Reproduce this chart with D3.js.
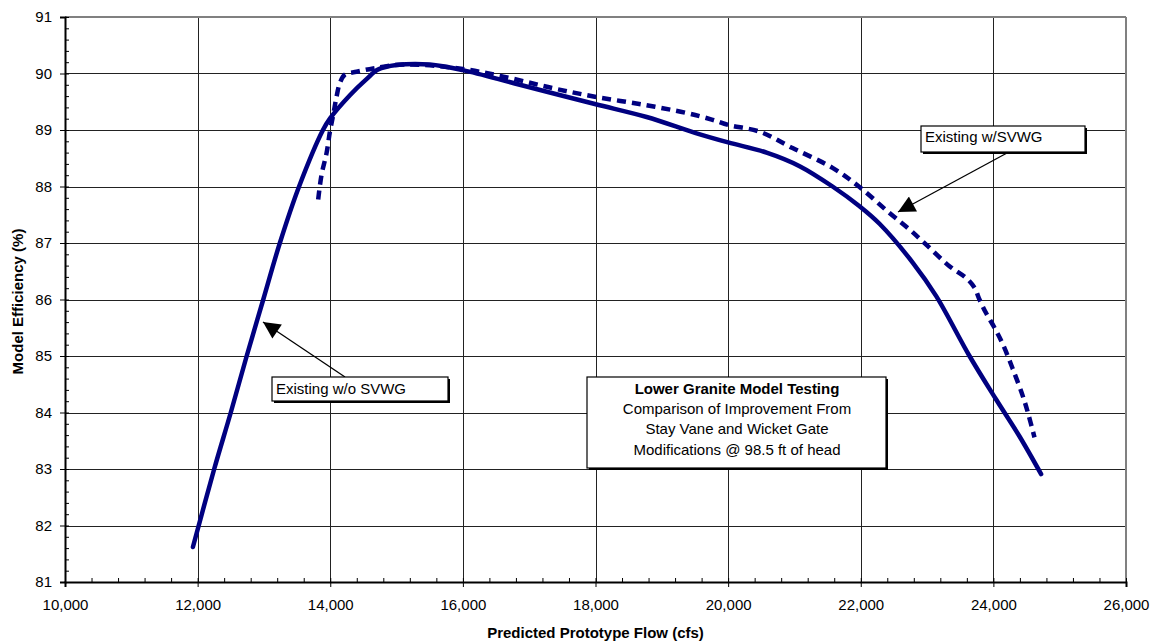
<!DOCTYPE html>
<html><head><meta charset="utf-8">
<script src="https://d3js.org/d3.v7.min.js"></script>
<style>body{margin:0;background:#fff}svg{display:block;font-family:Arial,"Liberation Sans",sans-serif}</style>
</head><body><svg id="c" width="1153" height="642"></svg>
<script>
const xTicks = [10000,12000,14000,16000,18000,20000,22000,24000,26000];
const yTicks = [81,82,83,84,85,86,87,88,89,90,91];
const withoutFlow = [11929,12250,12500,12740,12990,13240,13530,13890,14000,14300,14547,14720,15000,15500,16000,16858,17990,18771,19500,20000,20580,21078,21575,21982,22283,22786,23138,23640,24042,24393,24720];
const withoutEff  = [81.62,83.0,84.0,85.0,86.0,87.0,88.0,89.0,89.21,89.62,89.90,90.07,90.15,90.16,90.06,89.8,89.46,89.23,88.95,88.78,88.6,88.36,88.0,87.65,87.34,86.65,86.06,85.0,84.23,83.58,82.91];
const withFlow = [13818,13869,13944,13995,14045,14095,14145,14220,14396,14647,15094,16000,16707,17355,17990,18711,19375,19766,20000,20475,20972,21575,21982,22434,22735,22987,23338,23590,23715,23790,23890,24017,24142,24293,24444,24520,24620];
const withEff  = [87.77,88.21,88.59,88.97,89.27,89.59,89.83,89.98,90.03,90.09,90.16,90.08,89.92,89.74,89.59,89.45,89.30,89.18,89.09,88.97,88.68,88.33,87.99,87.53,87.24,86.97,86.59,86.38,86.21,86.0,85.76,85.50,85.21,84.77,84.29,84.0,83.56];
const xLabel = "Predicted Prototype Flow (cfs)";
const yLabel = "Model Efficiency (%)";
const noteLines = ["Lower Granite Model Testing","Comparison of Improvement From","Stay Vane and Wicket Gate","Modifications @ 98.5 ft of head"];

const svg = d3.select("#c");
const L=65, R=1126, T=17, B=582;
const x = d3.scaleLinear().domain([10000,26000]).range([L,R]);
const y = d3.scaleLinear().domain([81,91]).range([B,T]);
const navy = "#000080";

const g = svg.append("g");
g.selectAll(".vg").data(xTicks.slice(1,-1)).join("line")
  .attr("x1",d=>Math.round(x(d))+0.5).attr("x2",d=>Math.round(x(d))+0.5).attr("y1",T).attr("y2",B)
  .attr("stroke","#222").attr("stroke-width",1);
g.selectAll(".hg").data(yTicks.slice(1,-1)).join("line")
  .attr("y1",d=>Math.round(y(d))+0.5).attr("y2",d=>Math.round(y(d))+0.5).attr("x1",L).attr("x2",R)
  .attr("stroke","#222").attr("stroke-width",1);
svg.append("line").attr("x1",L).attr("x2",R).attr("y1",T).attr("y2",T).attr("stroke","#808080").attr("stroke-width",2);
svg.append("line").attr("x1",R).attr("x2",R).attr("y1",T).attr("y2",B).attr("stroke","#808080").attr("stroke-width",2);

const xMinor = d3.range(10000,26001,400);
const yMinor = d3.range(0,51).map(i=>81+i*0.2);
const ax = svg.append("g").attr("transform",`translate(0,${B})`)
  .call(d3.axisBottom(x).tickValues(xTicks).tickFormat(d3.format(",")).tickSize(5).tickPadding(12));
ax.select(".domain").attr("stroke","#000").attr("stroke-width",2);
ax.selectAll("text").attr("font-size","15px").attr("fill","#000");
svg.append("g").attr("transform",`translate(0,${B})`)
  .call(d3.axisBottom(x).tickValues(xMinor).tickFormat("").tickSize(-4))
  .call(s=>s.select(".domain").remove());
const ay = svg.append("g").attr("transform",`translate(${L},0)`)
  .call(d3.axisLeft(y).tickValues(yTicks).tickSize(5).tickPadding(8));
ay.select(".domain").attr("stroke","#000").attr("stroke-width",2);
ay.selectAll("text").attr("font-size","15px").attr("fill","#000");
svg.append("g").attr("transform",`translate(${L},0)`)
  .call(d3.axisLeft(y).tickValues(yMinor).tickFormat("").tickSize(-4))
  .call(s=>s.select(".domain").remove());

svg.append("text").attr("x",(L+R)/2).attr("y",638).attr("text-anchor","middle")
  .attr("font-size","15px").attr("font-weight","bold").text(xLabel);
svg.append("text").attr("transform",`translate(23,${(T+B)/2+2}) rotate(-90)`).attr("text-anchor","middle")
  .attr("font-size","15px").attr("font-weight","bold").text(yLabel);

const line = d3.line().x(d=>x(d[0])).y(d=>y(d[1])).curve(d3.curveCatmullRom.alpha(0.5));
const wo = withoutFlow.map((f,i)=>[f,withoutEff[i]]);
const wi = withFlow.map((f,i)=>[f,withEff[i]]);
svg.append("path").attr("d",line(wi)).attr("fill","none").attr("stroke",navy)
  .attr("stroke-width",4.5).attr("stroke-dasharray","9,6");
svg.append("path").attr("d",line(wo)).attr("fill","none").attr("stroke",navy)
  .attr("stroke-width",4.5).attr("stroke-linecap","round").attr("stroke-linejoin","round");

svg.append("defs").append("marker").attr("id","ah").attr("viewBox","0 0 10 10")
  .attr("refX",10).attr("refY",5).attr("markerWidth",22).attr("markerHeight",17)
  .attr("markerUnits","userSpaceOnUse").attr("orient","auto")
  .append("path").attr("d","M0,0 L10,5 L0,10 Z").attr("fill","#000");

function box(x0,y0,w,h){
  svg.append("rect").attr("x",x0+2).attr("y",y0+2).attr("width",w).attr("height",h).attr("fill","#000");
  svg.append("rect").attr("x",x0).attr("y",y0).attr("width",w).attr("height",h).attr("fill","#fff").attr("stroke","#000").attr("stroke-width",1.2);
}
svg.append("line").attr("x1",1007).attr("y1",153).attr("x2",898).attr("y2",212)
  .attr("stroke","#000").attr("stroke-width",1.3).attr("marker-end","url(#ah)");
box(921,126,164,26);
svg.append("text").attr("x",925).attr("y",142).attr("font-size","15px").text("Existing w/SVWG");
svg.append("line").attr("x1",345).attr("y1",377).attr("x2",263).attr("y2",322)
  .attr("stroke","#000").attr("stroke-width",1.3).attr("marker-end","url(#ah)");
box(272,377,176,24);
svg.append("text").attr("x",276).attr("y",394).attr("font-size","15px").text("Existing w/o SVWG");
box(587,377,299,91);
const nb=[394,414,434,455];
noteLines.forEach((t,i)=>svg.append("text").attr("x",737).attr("y",nb[i]).attr("text-anchor","middle")
  .attr("font-size","15px").attr("font-weight",i===0?"bold":"normal").text(t));
</script></body></html>
